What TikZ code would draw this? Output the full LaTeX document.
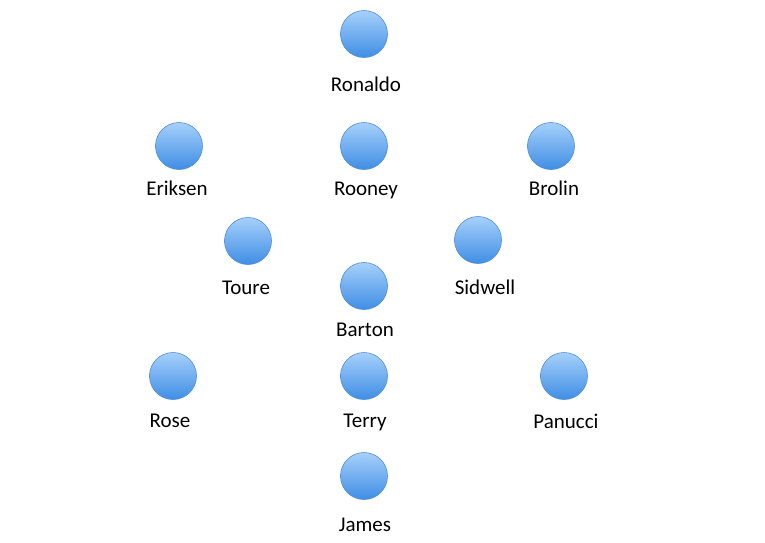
\documentclass[tikz,border=0pt]{standalone}
\usepackage{fontspec}
\setmainfont{Carlito}
\definecolor{ctop}{HTML}{A6D0FB}
\definecolor{cbot}{HTML}{3F8EE4}
\definecolor{cedge}{HTML}{4F8FD6}
\tikzset{
  player/.style={circle, minimum size=47pt, inner sep=0pt, draw=cedge, line width=0.6pt, top color=ctop, bottom color=cbot},
  pname/.style={anchor=base, inner sep=0pt, font=\fontsize{21}{25}\selectfont}
}
\begin{document}
\begin{tikzpicture}[x=1pt,y=-1pt]
\useasboundingbox (0,0) rectangle (765,542);
\node[player] (ronaldo) at (364,34) {};
\node[pname] (lronaldo) at (366,91) {Ronaldo};
\node[player] (eriksen) at (179,146) {};
\node[pname] (leriksen) at (177,195) {Eriksen};
\node[player] (rooney) at (364,146) {};
\node[pname] (lrooney) at (366,195) {Rooney};
\node[player] (brolin) at (551,146) {};
\node[pname] (lbrolin) at (554,195) {Brolin};
\node[player] (toure) at (248,241) {};
\node[pname] (ltoure) at (246,294) {Toure};
\node[player] (sidwell) at (478,240) {};
\node[pname] (lsidwell) at (485,294) {Sidwell};
\node[player] (barton) at (364,286) {};
\node[pname] (lbarton) at (365,336) {Barton};
\node[player] (rose) at (173,376) {};
\node[pname] (lrose) at (170,427) {Rose};
\node[player] (terry) at (364,376) {};
\node[pname] (lterry) at (365,427) {Terry};
\node[player] (panucci) at (564,376) {};
\node[pname] (lpanucci) at (566,428) {Panucci};
\node[player] (james) at (364,476) {};
\node[pname] (ljames) at (365,531) {James};
\end{tikzpicture}
\end{document}
